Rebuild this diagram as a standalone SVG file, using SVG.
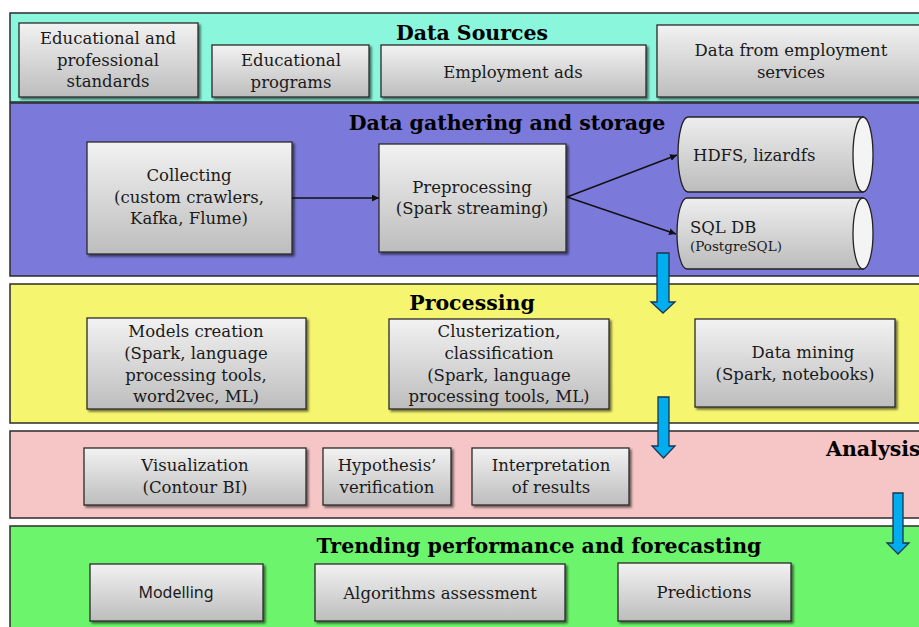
<svg xmlns="http://www.w3.org/2000/svg" width="919" height="627" viewBox="0 0 919 627">
  <defs>
    <linearGradient id="boxGrad" x1="0" y1="0" x2="0" y2="1">
      <stop offset="0" stop-color="#f2f2f2"/>
      <stop offset="1" stop-color="#bdbdbd"/>
    </linearGradient>
    <linearGradient id="cylGrad" x1="0" y1="0" x2="0" y2="1">
      <stop offset="0" stop-color="#eeeeee"/>
      <stop offset="1" stop-color="#bcbcbc"/>
    </linearGradient>
    <filter id="shadow" x="-10%" y="-10%" width="125%" height="130%">
      <feDropShadow dx="2" dy="2" stdDeviation="1.2" flood-color="#000" flood-opacity="0.55"/>
    </filter>
    <marker id="arrow" viewBox="0 0 10 10" refX="10" refY="5" markerWidth="7" markerHeight="7" orient="auto" markerUnits="userSpaceOnUse">
      <path d="M0,0 L10,5 L0,10 z" fill="#111"/>
    </marker>
  </defs>
  <style>
    .band { stroke: #2b2b2b; stroke-width: 1.5; }
    .box { fill: url(#boxGrad); stroke: #2a2a2a; stroke-width: 1.3; filter: url(#shadow); }
    .cyl { fill: url(#cylGrad); stroke: #222; stroke-width: 1.3; }
    .cap { fill: #f4f4f4; stroke: #222; stroke-width: 1.3; }
    .t { font-family: "DejaVu Serif", "Liberation Serif", serif; font-size: 16.5px; fill: #1a1a1a; text-anchor: middle; }
    .ts { font-family: "Noto Sans", "Liberation Sans", sans-serif; font-size: 16px; fill: #1a1a1a; text-anchor: middle; }
    .title { font-family: "DejaVu Serif", "Liberation Serif", serif; font-size: 20.5px; font-weight: bold; fill: #000; text-anchor: middle; }
    .left { text-anchor: start; }
    .small { font-size: 13.5px; }
    .conn { stroke: #111; stroke-width: 1.5; fill: none; }
    .flow { fill: #00aeef; stroke: #1c3550; stroke-width: 1.3; }
  </style>

  <rect width="919" height="627" fill="#ffffff"/>

  <!-- Layer bands -->
  <g id="band-sources">
    <rect class="band" x="10" y="13" width="912" height="89" fill="#8af6dc"/>
    <text class="title" x="472" y="40">Data Sources</text>
  </g>
  <g id="band-gathering">
    <rect class="band" x="10" y="103" width="912" height="173" fill="#7b79d9"/>
    <text class="title" x="507" y="130">Data gathering and storage</text>
  </g>
  <g id="band-processing">
    <rect class="band" x="10" y="284" width="912" height="139" fill="#f5f56f"/>
    <text class="title" x="472" y="310">Processing</text>
  </g>
  <g id="band-analysis">
    <rect class="band" x="10" y="431" width="912" height="87" fill="#f6c5c5"/>
    <text class="title left" x="826" y="456">Analysis</text>
  </g>
  <g id="band-trending">
    <rect class="band" x="10" y="526" width="912" height="104" fill="#6cf56c"/>
    <text class="title" x="539" y="553">Trending performance and forecasting</text>
  </g>

  <!-- Data sources -->
  <g id="src-standards">
    <rect class="box" x="19" y="23" width="179" height="74"/>
    <text class="t" x="108" y="44">Educational and</text>
    <text class="t" x="108" y="66">professional</text>
    <text class="t" x="108" y="87">standards</text>
  </g>
  <g id="src-programs">
    <rect class="box" x="212" y="45" width="157" height="52"/>
    <text class="t" x="291" y="66">Educational</text>
    <text class="t" x="291" y="88">programs</text>
  </g>
  <g id="src-ads">
    <rect class="box" x="381" y="45" width="265" height="52"/>
    <text class="t" x="513" y="78">Employment ads</text>
  </g>
  <g id="src-services">
    <rect class="box" x="657" y="25" width="270" height="72"/>
    <text class="t" x="791" y="56">Data from employment</text>
    <text class="t" x="791" y="78">services</text>
  </g>

  <!-- Gathering and storage -->
  <g id="collecting">
    <rect class="box" x="87" y="142" width="205" height="112"/>
    <text class="t" x="189" y="181">Collecting</text>
    <text class="t" x="189" y="203">(custom crawlers,</text>
    <text class="t" x="189" y="224">Kafka, Flume)</text>
  </g>
  <g id="preprocessing">
    <rect class="box" x="379" y="144" width="187" height="108"/>
    <text class="t" x="472" y="193">Preprocessing</text>
    <text class="t" x="472" y="214">(Spark streaming)</text>
  </g>
  <g id="hdfs">
    <path class="cyl" d="M688,117 L863,117 L863,192 L688,192 A10,37.5 0 0 1 688,117 z"/>
    <ellipse class="cap" cx="863" cy="154.5" rx="10" ry="37.5"/>
    <text class="t left" x="693" y="161">HDFS, lizardfs</text>
  </g>
  <g id="sqldb">
    <path class="cyl" d="M687,198 L863,198 L863,269 L687,269 A10,35.5 0 0 1 687,198 z"/>
    <ellipse class="cap" cx="863" cy="233.5" rx="10" ry="35.5"/>
    <text class="t left" x="690" y="233">SQL DB</text>
    <text class="t left small" x="690" y="251">(PostgreSQL)</text>
  </g>

  <!-- Processing -->
  <g id="models">
    <rect class="box" x="87" y="318" width="219" height="91"/>
    <text class="t" x="196" y="337">Models creation</text>
    <text class="t" x="196" y="359">(Spark, language</text>
    <text class="t" x="196" y="381">processing tools,</text>
    <text class="t" x="196" y="402">word2vec, ML)</text>
  </g>
  <g id="clusterization">
    <rect class="box" x="389" y="319" width="220" height="90"/>
    <text class="t" x="499" y="337">Clusterization,</text>
    <text class="t" x="499" y="359">classification</text>
    <text class="t" x="499" y="381">(Spark, language</text>
    <text class="t" x="499" y="402">processing tools, ML)</text>
  </g>
  <g id="datamining">
    <rect class="box" x="695" y="319" width="200" height="88"/>
    <text class="t" x="803" y="358">Data mining</text>
    <text class="t" x="795" y="380">(Spark, notebooks)</text>
  </g>

  <!-- Analysis -->
  <g id="visualization">
    <rect class="box" x="84" y="448" width="222" height="57"/>
    <text class="t" x="195" y="471">Visualization</text>
    <text class="t" x="195" y="493">(Contour BI)</text>
  </g>
  <g id="hypothesis">
    <rect class="box" x="323" y="448" width="128" height="57"/>
    <text class="t" x="387" y="471">Hypothesis’</text>
    <text class="t" x="387" y="493">verification</text>
  </g>
  <g id="interpretation">
    <rect class="box" x="472" y="448" width="157" height="57"/>
    <text class="t" x="551" y="471">Interpretation</text>
    <text class="t" x="551" y="493">of results</text>
  </g>

  <!-- Trending performance and forecasting -->
  <g id="modelling">
    <rect class="box" x="90" y="564" width="173" height="57"/>
    <text class="ts" x="176" y="598">Modelling</text>
  </g>
  <g id="algorithms">
    <rect class="box" x="315" y="564" width="250" height="57"/>
    <text class="t" x="440" y="599">Algorithms assessment</text>
  </g>
  <g id="predictions">
    <rect class="box" x="618" y="563" width="173" height="58"/>
    <text class="t" x="704" y="598">Predictions</text>
  </g>

  <!-- Connectors -->
  <g id="connectors">
    <line class="conn" x1="292" y1="198" x2="379" y2="198" marker-end="url(#arrow)"/>
    <line class="conn" x1="567" y1="197" x2="677" y2="155" marker-end="url(#arrow)"/>
    <line class="conn" x1="567" y1="197" x2="676" y2="234" marker-end="url(#arrow)"/>
    <path class="flow" d="M657,253 L669,253 L669,302 L675,302 L663,313 L651,302 L657,302 z"/>
    <path class="flow" d="M658,397 L669,397 L669,446 L675,446 L663.5,458 L652,446 L658,446 z"/>
    <path class="flow" d="M893,493 L903,493 L903,543 L909,543 L898,554 L887,543 L893,543 z"/>
  </g>
</svg>
